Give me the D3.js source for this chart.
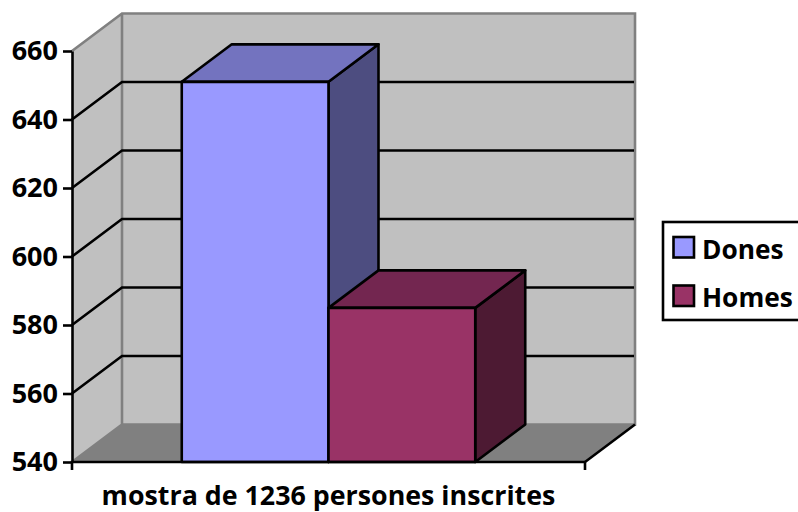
<!DOCTYPE html>
<html>
<head>
<meta charset="utf-8">
<script src="https://cdn.jsdelivr.net/npm/d3@7"></script>
<style>
  html, body { margin: 0; padding: 0; background: #fff; overflow: hidden; }
  svg { display: block; }
  text { font-family: "Open Sans", Lato, sans-serif; font-weight: 700; fill: #000; }
</style>
</head>
<body>
<svg id="chart" width="798" height="512"></svg>
<script>
var categories = ["mostra de 1236 persones inscrites"];
var seriesNames = ["Dones", "Homes"];
var seriesValues = [651, 585];
var frontColors = ["#9999ff", "#993366"];
var topColors = ["#7373bf", "#732650"];
var sideColors = ["#4d4d80", "#4d1a33"];
var yTicks = [540, 560, 580, 600, 620, 640, 660];

var svg = d3.select("#chart"),
  left = 72,
  right = 585,
  bottom = 462,
  top_ = 51,
  depthX = 50,
  depthY = 37.5,
  lineW = 2.6;

var y = d3.scaleLinear().domain([540, 660]).range([bottom, top_]);
var x0 = d3.scaleBand().domain(categories).range([left, right]).paddingOuter(0.374).paddingInner(0);
var x1 = d3.scaleBand().domain(seriesNames).range([0, x0.bandwidth()]);

function pts(list) {
  return list.map(function (p) { return p[0] + "," + p[1]; }).join(" ");
}

// walls and floor
var walls = svg.append("g");
walls.append("polygon")
  .attr("points", pts([[left, bottom], [left + depthX, bottom - depthY], [left + depthX, top_ - depthY], [left, top_]]))
  .attr("fill", "#c0c0c0");
walls.append("rect")
  .attr("x", left + depthX)
  .attr("y", top_ - depthY)
  .attr("width", right - left)
  .attr("height", bottom - top_)
  .attr("fill", "#c0c0c0");
walls.append("polygon")
  .attr("points", pts([[left, bottom], [left + depthX, bottom - depthY], [right + depthX, bottom - depthY], [right, bottom]]))
  .attr("fill", "#808080");
walls.append("path")
  .attr("d", "M" + left + "," + top_ + "L" + (left + depthX) + "," + (top_ - depthY) +
    "H" + (right + depthX) + "V" + (bottom - depthY) + "H" + (left + depthX) +
    "M" + (left + depthX) + "," + (top_ - depthY) + "V" + (bottom - depthY) + "L" + left + "," + bottom)
  .attr("fill", "none")
  .attr("stroke", "#808080")
  .attr("stroke-width", lineW);

// gridlines on the side and back walls
svg.append("g")
  .selectAll("path")
  .data(yTicks.filter(function (d) { return d > 540 && d < 660; }))
  .enter()
  .append("path")
  .attr("d", function (d) {
    return "M" + left + "," + y(d) + "L" + (left + depthX) + "," + (y(d) - depthY) + "H" + (right + depthX - 1);
  })
  .attr("fill", "none")
  .attr("stroke", "#000")
  .attr("stroke-width", lineW);

// right floor edge
svg.append("line")
  .attr("x1", right).attr("y1", bottom)
  .attr("x2", right + depthX).attr("y2", bottom - depthY)
  .attr("stroke", "#000")
  .attr("stroke-width", lineW);

// 3d bars
var bars = svg.append("g")
  .attr("transform", "translate(" + x0(categories[0]) + ",0)")
  .attr("stroke", "#000")
  .attr("stroke-width", lineW)
  .attr("stroke-linejoin", "round");

seriesNames.forEach(function (name, i) {
  var bx = x1(name),
    bw = x1.bandwidth(),
    by = y(seriesValues[i]),
    g = bars.append("g");
  g.append("polygon")
    .attr("points", pts([[bx + bw, by], [bx + bw + depthX, by - depthY], [bx + bw + depthX, bottom - depthY], [bx + bw, bottom]]))
    .attr("fill", sideColors[i]);
  g.append("polygon")
    .attr("points", pts([[bx, by], [bx + depthX, by - depthY], [bx + bw + depthX, by - depthY], [bx + bw, by]]))
    .attr("fill", topColors[i]);
  g.append("rect")
    .attr("x", bx)
    .attr("y", by)
    .attr("width", bw)
    .attr("height", bottom - by)
    .attr("fill", frontColors[i]);
});

// axes
var yAxis = svg.append("g")
  .attr("transform", "translate(" + left + ",0)")
  .call(d3.axisLeft(y).tickValues(yTicks).tickSize(9).tickSizeOuter(0).tickPadding(5));
yAxis.select(".domain").attr("stroke", "#000").attr("stroke-width", lineW);
yAxis.selectAll(".tick line").attr("stroke", "#000").attr("stroke-width", lineW);
yAxis.selectAll(".tick text")
  .style("font-family", "'Open Sans', Lato, sans-serif")
  .style("font-size", "27px")
  .style("font-weight", 700);

svg.append("path")
  .attr("d", "M" + left + "," + (bottom + 8) + "V" + bottom + "H" + right + "V" + (bottom + 8))
  .attr("fill", "none")
  .attr("stroke", "#000")
  .attr("stroke-width", lineW);

svg.append("text")
  .attr("x", (left + right) / 2)
  .attr("y", 505)
  .attr("text-anchor", "middle")
  .style("font-size", "26.8px")
  .text(categories[0]);

// legend
var legend = svg.append("g");
legend.append("rect")
  .attr("x", 663)
  .attr("y", 222)
  .attr("width", 145)
  .attr("height", 98)
  .attr("fill", "#fff")
  .attr("stroke", "#000")
  .attr("stroke-width", lineW);

var items = legend.selectAll("g")
  .data(seriesNames)
  .enter()
  .append("g")
  .attr("transform", function (d, i) { return "translate(0," + i * 48.5 + ")"; });
items.append("rect")
  .attr("x", 673.5)
  .attr("y", 237)
  .attr("width", 20.5)
  .attr("height", 20.5)
  .attr("fill", function (d, i) { return frontColors[i]; })
  .attr("stroke", "#000")
  .attr("stroke-width", lineW);
items.append("text")
  .attr("x", 702)
  .attr("y", 258.5)
  .style("font-size", "26.3px")
  .text(function (d) { return d; });
</script>
</body>
</html>
